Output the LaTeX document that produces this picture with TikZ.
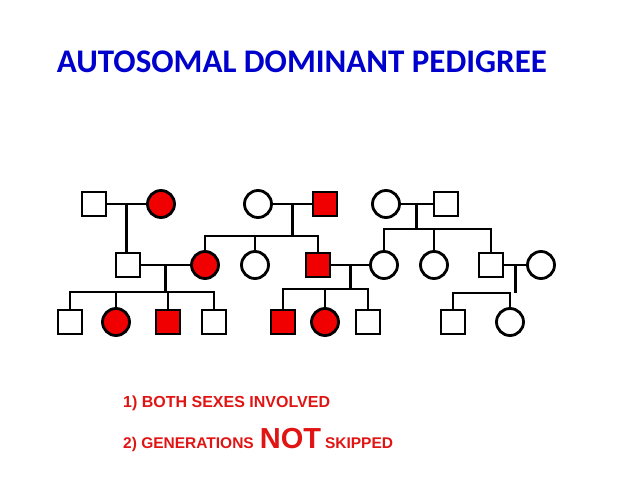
\documentclass[tikz,border=0pt]{standalone}
\usepackage{fontspec}
\usepackage{xcolor}
\usepackage{tikz}
\newfontfamily\titlefont{Carlito}
\newfontfamily\notefont{Liberation Sans}
\definecolor{titleblue}{RGB}{0,0,205}
\definecolor{sick}{RGB}{240,0,0}
\definecolor{notered}{RGB}{225,20,20}
\tikzset{
  male/.style={draw, rectangle, line width=2.8pt, minimum size=24pt, inner sep=0pt, fill=white},
  female/.style={draw, circle, line width=2.8pt, minimum size=27pt, inner sep=0pt, fill=white},
  ill/.style={fill=sick},
  link/.style={line width=2.8pt}
}

\begin{document}
\begin{tikzpicture}[x=1pt,y=-1pt]
\useasboundingbox (0,0) rectangle (638,479);
% title
\node (title) at (302,62) {\titlefont\bfseries\fontsize{33}{38}\selectfont\color{titleblue}AUTOSOMAL DOMINANT PEDIGREE};
% first generation
\node[male] (m1) at (94,204) {};
\node[female,ill] (f1) at (161,204) {};
\node[female] (f2) at (258,204) {};
\node[male,ill] (m2) at (325,204) {};
\node[female] (f3) at (386,204) {};
\node[male] (m3) at (446,204) {};
% second generation
\node[male] (m4) at (128,265) {};
\node[female,ill] (f4) at (205,265) {};
\node[female] (f5) at (255,265) {};
\node[male,ill] (m5) at (318,265) {};
\node[female] (f6) at (384,265) {};
\node[female] (f7) at (434,265) {};
\node[male] (m6) at (491,265) {};
\node[female] (f8) at (541,265) {};
% third generation
\node[male] (m7) at (70,322) {};
\node[female,ill] (f9) at (116,322) {};
\node[male,ill] (m8) at (168,322) {};
\node[male] (m9) at (214,322) {};
\node[male,ill] (m10) at (283,322) {};
\node[female,ill] (f10) at (325,322) {};
\node[male] (m11) at (368,322) {};
\node[male] (m12) at (453,322) {};
\node[female] (f11) at (510,322) {};
% couples
\draw[link] (m1) -- (f1) coordinate[midway] (c1);
\draw[link] (f2) -- (m2) coordinate[midway] (c2);
\draw[link] (f3) -- (m3) coordinate[midway] (c3);
\draw[link] (m4) -- (f4) coordinate[midway] (c4);
\draw[link] (m5) -- (f6) coordinate[midway] (c5);
\draw[link] (m6) -- (f8) coordinate[midway] (c6);
% sibships
\coordinate (s2) at (292,236);
\coordinate (s3) at (417,229);
\coordinate (s4) at (166,292);
\coordinate (s5) at (352,289);
\coordinate (s6) at (515,293);
\draw[link] (c1) -- (c1 |- m4.north);
\draw[link] (c2) -- (c2 |- s2);
\draw[link] (f4.north) -- (f4.north |- s2) -- (m5.north |- s2) -- (m5.north);
\draw[link] (f5.north) -- (f5.north |- s2);
\draw[link] (c3) -- (c3 |- s3);
\draw[link] (f6.north) -- (f6.north |- s3) -- (m6.north |- s3) -- (m6.north);
\draw[link] (f7.north) -- (f7.north |- s3);
\draw[link] (c4) -- (c4 |- s4);
\draw[link] (m7.north) -- (m7.north |- s4) -- (m9.north |- s4) -- (m9.north);
\draw[link] (f9.north) -- (f9.north |- s4);
\draw[link] (m8.north) -- (m8.north |- s4);
\draw[link] (c5) -- (c5 |- s5);
\draw[link] (m10.north) -- (m10.north |- s5) -- (m11.north |- s5) -- (m11.north);
\draw[link] (f10.north) -- (f10.north |- s5);
\draw[link] (c6) -- (c6 |- s6);
\draw[link] (m12.north) -- (m12.north |- s6) -- (f11.north |- s6) -- (f11.north);
% notes
\node[anchor=base west, inner sep=0pt, text=notered] (n1) at (123,407) {\notefont\bfseries\fontsize{16}{18}\selectfont 1) BOTH SEXES INVOLVED};
\node[anchor=base west, inner sep=0pt, text=notered] (n2) at (123,448) {\notefont\bfseries\fontsize{15.5}{18}\selectfont 2) GENERATIONS\hspace{6pt}{\fontsize{29}{32}\selectfont NOT}\hspace{4pt}SKIPPED};
\end{tikzpicture}
\end{document}
